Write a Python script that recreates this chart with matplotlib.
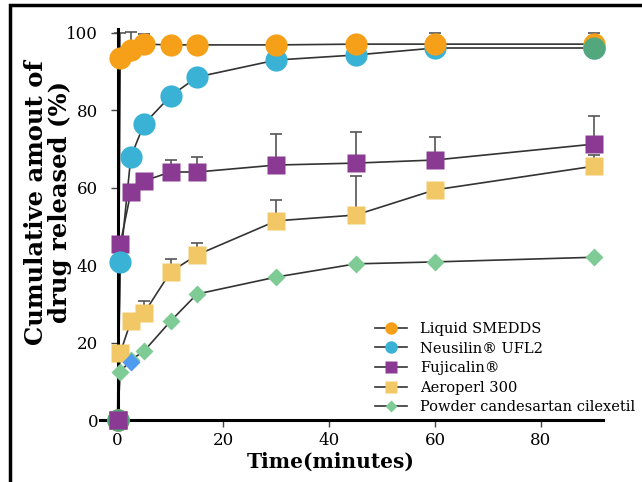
import numpy as np
import matplotlib
matplotlib.use("Agg")
import matplotlib.pyplot as plt
from matplotlib.patches import Rectangle
from matplotlib.lines import Line2D

# data
time = [0, 0.5, 2.5, 5, 10, 15, 30, 45, 60, 90]
smedds = [0, 93.5, 95.5, 97.0, 96.8, 96.8, 96.8, 97.0, 97.0, 97.0]
smedds_err = [0, 6.5, 4.6, 2.7, 0, 0, 0, 0, 3.0, 3.0]
neusilin = [0, 40.8, 67.9, 76.4, 83.6, 88.5, 92.9, 94.2, 96.0, 96.0]
neusilin_err = [0, 0, 0, 0, 0, 0, 0, 0, 0, 0]
fujicalin = [0, 45.4, 58.8, 61.7, 64.0, 64.0, 65.8, 66.3, 67.1, 71.2]
fujicalin_err = [0, 0, 0, 0, 3.0, 4.0, 8.0, 8.0, 6.0, 7.2]
aeroperl = [0, 17.3, 25.5, 27.6, 38.2, 42.6, 51.4, 52.9, 59.4, 65.5]
aeroperl_err = [0, 0, 0, 3.0, 3.3, 3.0, 5.4, 10.0, 0, 2.9]
powder = [0, 12.4, 15.5, 17.8, 25.5, 32.5, 36.9, 40.3, 40.8, 42.0]

# stray markers visible in the picture (not in legend)
extra_circle_t = [0, 90]
extra_circle_v = [0, 96.0]
extra_diamond_t = [0, 2.5]
extra_diamond_v = [0, 15.0]
extra_square_t = [0]
extra_square_v = [0]

labels = ["Liquid SMEDDS", "Neusilin\u00ae UFL2", "Fujicalin\u00ae",
          "Aeroperl 300", "Powder candesartan cilexetil"]
colors = ["#F6A01A", "#3AB2D5", "#8A3A92", "#F2C867", "#7ECB96"]

plt.rcParams["font.family"] = ["DejaVu Serif"]

fig = plt.figure(figsize=(6.42, 4.82), dpi=100)
ax = fig.add_axes([0.156, 0.1286, 0.783, 0.812])

# frame around figure
fig.patches.append(Rectangle((10 / 642, -0.2), 1.2, 1.2 - 5 / 482, transform=fig.transFigure,
                             fill=False, lw=2.5, ec="black", clip_on=False))

linecol = "#333333"
kw = dict(color=linecol, lw=1.2, clip_on=False, zorder=2)

series = [
    (powder, None, "D", 9, colors[4]),
    (aeroperl, aeroperl_err, "s", 13, colors[3]),
    (fujicalin, fujicalin_err, "s", 13, colors[2]),
    (neusilin, neusilin_err, "o", 16, colors[1]),
    (smedds, smedds_err, "o", 16, colors[0]),
]
for vals, err, mk, ms, col in series:
    ax.plot(time, vals, **kw)
    if err is not None:
        up = np.array(err)
        ax.errorbar(time, vals, yerr=[np.zeros_like(up), up], fmt="none",
                    ecolor="#555555", elinewidth=1.2, capsize=4, capthick=1.2,
                    zorder=2, clip_on=False)
    ax.plot(time, vals, ls="none", marker=mk, ms=ms, color=col,
            mec="none", clip_on=False, zorder=3)

ax.plot(extra_diamond_t, extra_diamond_v, ls="none", marker="D", ms=9, color="#4F9BEF",
        mec="none", clip_on=False, zorder=3)
ax.plot(extra_circle_t, extra_circle_v, ls="none", marker="o", ms=16, color="#52A87C",
        mec="none", clip_on=False, zorder=3)
ax.plot(extra_square_t, extra_square_v, ls="none", marker="s", ms=13, color="#F07070",
        mec="none", clip_on=False, zorder=2.5)
ax.plot([0], [0], ls="none", marker="s", ms=13, color=colors[2], mec="none",
        clip_on=False, zorder=4)

ax.set_xlim(-3.3, 91.7)
ax.set_ylim(0, 101)
ax.spines["left"].set_position(("data", 0))
ax.spines["left"].set_linewidth(2.2)
ax.spines["bottom"].set_linewidth(2.2)
ax.spines["top"].set_visible(False)
ax.spines["right"].set_visible(False)
ax.set_xticks([0, 20, 40, 60, 80])
ax.set_yticks([0, 20, 40, 60, 80, 100])
ax.tick_params(axis="both", labelsize=12, width=1, length=5, color="#444444")
ax.tick_params(axis="y", pad=9)
ax.set_xlabel("Time(minutes)", fontsize=14.5, fontweight="bold")
ax.xaxis.set_label_coords(0.459, -0.08)
ax.set_ylabel("Cumulative amout of\ndrug released (%)", fontsize=17.5, fontweight="bold",
              linespacing=1.0)
ax.yaxis.set_label_coords(-0.056, 0.556)

handles = [
    Line2D([], [], color=linecol, lw=1.2, marker="o", ms=9, mfc=colors[0], mec="none"),
    Line2D([], [], color=linecol, lw=1.2, marker="o", ms=9, mfc=colors[1], mec="none"),
    Line2D([], [], color=linecol, lw=1.2, marker="s", ms=8, mfc=colors[2], mec="none"),
    Line2D([], [], color=linecol, lw=1.2, marker="s", ms=8, mfc=colors[3], mec="none"),
    Line2D([], [], color=linecol, lw=1.2, marker="D", ms=6, mfc=colors[4], mec="none"),
]
ax.legend(handles, labels, loc="lower left", bbox_to_anchor=(0.535, 0.0),
          frameon=False, fontsize=10.5, handlelength=2.2, labelspacing=0.38,
          handletextpad=0.9, borderaxespad=0)

fig.savefig("out.png", dpi=100)
